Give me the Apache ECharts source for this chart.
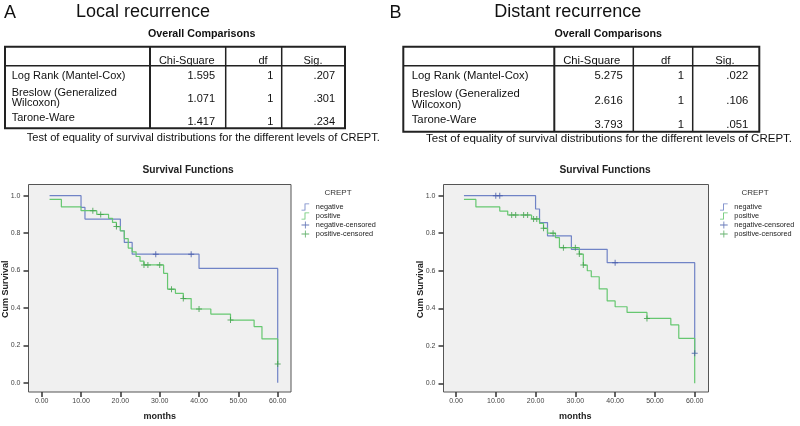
<!DOCTYPE html>
<html>
<head>
<meta charset="utf-8">
<script src="https://cdn.jsdelivr.net/npm/echarts@6/dist/echarts.min.js"></script>
<style>
  html, body { margin: 0; padding: 0; background: #fff; }
  #main { width: 800px; height: 426px; }
</style>
</head>
<body>
<div id="main"></div>
<script>
// ---- data ----
var testNames = ['Log Rank (Mantel-Cox)', 'Breslow (Generalized\nWilcoxon)', 'Tarone-Ware'];
var tableHeads = ['Chi-Square', 'df', 'Sig.'];

var localChiSquare = [1.595, 1.071, 1.417];
var localDf = [1, 1, 1];
var localSig = [0.207, 0.301, 0.234];

var distantChiSquare = [5.275, 2.616, 3.793];
var distantDf = [1, 1, 1];
var distantSig = [0.022, 0.106, 0.051];

// [month, cum survival] after each step
var localNegative = [[2, 1], [10, 0.9375], [11, 0.875], [20, 0.8125], [21, 0.75], [23, 0.6875], [40, 0.611], [60, 0]];
var localNegativeCensored = [[29, 0.6875], [38, 0.6875]];
var localPositive = [[2, 0.98], [5, 0.94], [10, 0.92], [14, 0.90], [17, 0.879], [18, 0.857], [19, 0.835], [20, 0.812],
    [21, 0.77], [22, 0.72], [23, 0.70], [24, 0.675], [25, 0.65], [26, 0.63], [31, 0.585], [32, 0.50], [34, 0.478],
    [36, 0.45], [38, 0.394], [43, 0.367], [48, 0.335], [54, 0.30], [56, 0.234], [60, 0.10]];
var localPositiveCensored = [[13, 0.92], [15, 0.90], [19, 0.835], [26, 0.63], [27, 0.63], [30, 0.63], [33, 0.50],
    [36, 0.45], [40, 0.394], [48, 0.335], [60, 0.10]];

var distantNegative = [[2, 1], [20, 0.929], [21, 0.857], [23, 0.786], [29, 0.714], [38, 0.643], [60, 0.16]];
var distantNegativeCensored = [[10, 1], [11, 1], [40, 0.643], [60, 0.16]];
var distantPositive = [[2, 0.98], [5, 0.94], [11, 0.918], [13, 0.897], [19, 0.876], [21, 0.853], [22, 0.826], [23, 0.80],
    [25, 0.776], [26, 0.723], [31, 0.689], [32, 0.63], [33, 0.60], [34, 0.568], [36, 0.503], [38, 0.439], [40, 0.408],
    [43, 0.378], [48, 0.346], [54, 0.311], [56, 0.24], [60, 0]];
var distantPositiveCensored = [[14, 0.897], [15, 0.897], [17, 0.897], [18, 0.897], [19.5, 0.876], [20.3, 0.876],
    [22, 0.826], [24.4, 0.80], [27, 0.723], [30, 0.723], [31, 0.689], [32, 0.63], [48, 0.346]];

// ---- styling ----
var FONT = '"Liberation Sans", Arial, sans-serif';
var BLUE = '#7083c6', BLUE_DARK = '#4258a8';
var GREEN = '#66c770', GREEN_DARK = '#3f9f4a';
var stepIcon = 'path://M0,8.8H4.4V0H11V1.2H5.6V10H0Z';
var crossIcon = 'path://M0,4.4H11V5.6H0Z M4.9,0H6.1V10H4.9Z';
var censorMark = 'path://M0,2.5H6V3.5H0Z M2.5,0H3.5V6H2.5Z';

function fmtSig(v) { return v.toFixed(3).replace(/^0/, ''); }

function txt(x, y, s, size, opt) {
    opt = opt || {};
    return {
        type: 'text', x: x, y: y, silent: true,
        style: {
            text: s, fill: opt.color || '#111',
            font: (opt.bold ? 'bold ' : '') + size + 'px ' + FONT,
            align: opt.align || 'left', verticalAlign: 'middle',
            lineHeight: opt.lineHeight || size
        }
    };
}

function line(x1, y1, x2, y2, w) {
    return {type: 'line', silent: true, shape: {x1: x1, y1: y1, x2: x2, y2: y2}, style: {stroke: '#222', lineWidth: w}};
}

// t: cols (5 x-positions), top/head/bottom y, heads (centers), right edges, row y's
function tableGraphic(t, chi, df, sig) {
    var els = [];
    var c = t.cols;
    els.push({type: 'rect', silent: true, shape: {x: c[0], y: t.top, width: c[4] - c[0], height: t.bottom - t.top},
        style: {fill: 'none', stroke: '#222', lineWidth: 2}});
    els.push(line(c[0], t.head, c[4], t.head, 1.5));
    els.push(line(c[1], t.top, c[1], t.bottom, 2));
    els.push(line(c[2], t.top, c[2], t.bottom, 1.5));
    els.push(line(c[3], t.top, c[3], t.bottom, 1.5));
    for (var h = 0; h < tableHeads.length; h++) {
        els.push(txt(t.headX[h], t.headY, tableHeads[h], t.size, {align: 'center'}));
    }
    for (var i = 0; i < testNames.length; i++) {
        els.push(txt(t.labelX, t.labelY[i], testNames[i], t.size, {lineHeight: t.size - 0.5}));
        els.push(txt(t.rightX[0], t.valueY[i], chi[i].toFixed(3), t.size, {align: 'right'}));
        els.push(txt(t.rightX[1], t.valueY[i], String(df[i]), t.size, {align: 'right'}));
        els.push(txt(t.rightX[2], t.valueY[i], fmtSig(sig[i]), t.size, {align: 'right'}));
    }
    return els;
}

// plot frame (grey box) drawn behind each grid
function frame(x, y, w, h) {
    return {type: 'rect', silent: true, z: -10, shape: {x: x, y: y, width: w, height: h},
        style: {fill: '#f0f0f0', stroke: '#555', lineWidth: 1}};
}

var graphics = [];
graphics.push(frame(28.5, 184.5, 262.5, 207.5));
graphics.push(frame(443.5, 184.5, 265, 207.5));
graphics.push(txt(4, 13, 'A', 18));
graphics.push(txt(76, 12.5, 'Local recurrence', 18));
graphics.push(txt(389.5, 13, 'B', 18));
graphics.push(txt(494.3, 12.5, 'Distant recurrence', 18));
graphics.push(txt(201.7, 34.3, 'Overall Comparisons', 10.7, {bold: true, align: 'center'}));
graphics.push(txt(608.3, 34.3, 'Overall Comparisons', 10.7, {bold: true, align: 'center'}));
graphics = graphics.concat(tableGraphic({
    cols: [5, 150, 225.7, 281.7, 345], top: 46.7, head: 65.7, bottom: 128.3,
    size: 11, headX: [186.7, 263, 313], headY: 60.5, rightX: [215, 273.3, 335],
    labelX: 11.7, labelY: [75.5, 98, 117.8], valueY: [75.5, 98.5, 122]
}, localChiSquare, localDf, localSig));
graphics = graphics.concat(tableGraphic({
    cols: [403.3, 554.3, 633.3, 692.7, 759.3], top: 46.7, head: 65.7, bottom: 131.7,
    size: 11.3, headX: [591.7, 665.7, 725], headY: 60.5, rightX: [622.7, 684, 748.3],
    labelX: 411.7, labelY: [75.5, 99.5, 119.5], valueY: [75.5, 100.5, 124.5]
}, distantChiSquare, distantDf, distantSig));
graphics.push(txt(203.3, 138, 'Test of equality of survival distributions for the different levels of CREPT.', 11.1, {align: 'center'}));
graphics.push(txt(609, 138.5, 'Test of equality of survival distributions for the different levels of CREPT.', 11.5, {align: 'center'}));
graphics.push(txt(188, 170, 'Survival Functions', 10.2, {bold: true, align: 'center', color: '#222'}));
graphics.push(txt(605, 170, 'Survival Functions', 10.2, {bold: true, align: 'center', color: '#222'}));
graphics.push(txt(338, 193, 'CREPT', 8, {align: 'center', color: '#333'}));
graphics.push(txt(755, 193, 'CREPT', 8, {align: 'center', color: '#333'}));

function xAxisFor(gi, offset) {
    return {
        type: 'value', gridIndex: gi, min: 0, max: 60, interval: 10, position: 'bottom', offset: offset,
        name: 'months', nameLocation: 'middle', nameGap: 20, nameMoveOverlap: false,
        nameTextStyle: {fontFamily: FONT, fontSize: 9, fontWeight: 'bold', color: '#222'},
        axisLine: {show: false, onZero: false}, splitLine: {show: false},
        axisTick: {show: true, length: 5, lineStyle: {color: '#333', width: 1.5}},
        axisLabel: {margin: 6, fontFamily: FONT, fontSize: 7, color: '#444',
            formatter: function (v) { return v.toFixed(2); }}
    };
}

function yAxisFor(gi, offset) {
    return {
        type: 'value', gridIndex: gi, min: 0, max: 1, interval: 0.2, position: 'left', offset: offset,
        name: 'Cum Survival', nameLocation: 'middle', nameGap: 18, nameMoveOverlap: false,
        nameTextStyle: {fontFamily: FONT, fontSize: 9, fontWeight: 'bold', color: '#222'},
        axisLine: {show: false, onZero: false}, splitLine: {show: false},
        axisTick: {show: true, length: 5, lineStyle: {color: '#333', width: 1.5}},
        axisLabel: {margin: 8, fontFamily: FONT, fontSize: 7, color: '#444',
            formatter: function (v) { return v.toFixed(1); }}
    };
}

function kmSeries(gi, name, data, color) {
    return {
        name: name, type: 'line', step: 'end', xAxisIndex: gi, yAxisIndex: gi, data: data, clip: false,
        showSymbol: false, symbol: 'none', lineStyle: {color: color, width: 1.2}, itemStyle: {color: color},
        silent: true
    };
}

function censorSeries(gi, name, data, color) {
    return {
        name: name, type: 'scatter', xAxisIndex: gi, yAxisIndex: gi, data: data, clip: false,
        symbol: censorMark, symbolSize: 6, itemStyle: {color: color}, silent: true, z: 3
    };
}

function legendFor(left) {
    return {
        orient: 'vertical', left: left, top: 203.5, padding: 0, itemGap: 2,
        itemWidth: 11, itemHeight: 7, selectedMode: false,
        textStyle: {fontFamily: FONT, fontSize: 7.3, color: '#222'},
        data: [
            {name: 'negative', icon: stepIcon},
            {name: 'positive', icon: stepIcon},
            {name: 'negative-censored', icon: crossIcon},
            {name: 'positive-censored', icon: crossIcon}
        ]
    };
}

var chart = echarts.init(document.getElementById('main'), null, {renderer: 'canvas'});

var option = {
    animation: false,
    backgroundColor: '#ffffff',
    graphic: graphics,
    legend: [legendFor(301.5), legendFor(720)],
    // grids span exactly months 0-60 and survival 0-1; axes are pushed out to the frame with offset
    grid: [
        {left: 41.7, top: 195.7, width: 236, height: 187, outerBoundsMode: 'none', containLabel: false},
        {left: 456, top: 195.7, width: 238.7, height: 187.6, outerBoundsMode: 'none', containLabel: false}
    ],
    xAxis: [xAxisFor(0, 9.3), xAxisFor(1, 8.7)],
    yAxis: [yAxisFor(0, 13.2), yAxisFor(1, 12.5)],
    series: [
        kmSeries(0, 'negative', localNegative, BLUE),
        kmSeries(0, 'positive', localPositive, GREEN),
        censorSeries(0, 'negative-censored', localNegativeCensored, BLUE_DARK),
        censorSeries(0, 'positive-censored', localPositiveCensored, GREEN_DARK),
        kmSeries(1, 'negative', distantNegative, BLUE),
        kmSeries(1, 'positive', distantPositive, GREEN),
        censorSeries(1, 'negative-censored', distantNegativeCensored, BLUE_DARK),
        censorSeries(1, 'positive-censored', distantPositiveCensored, GREEN_DARK)
    ]
};

chart.setOption(option);
</script>
</body>
</html>
